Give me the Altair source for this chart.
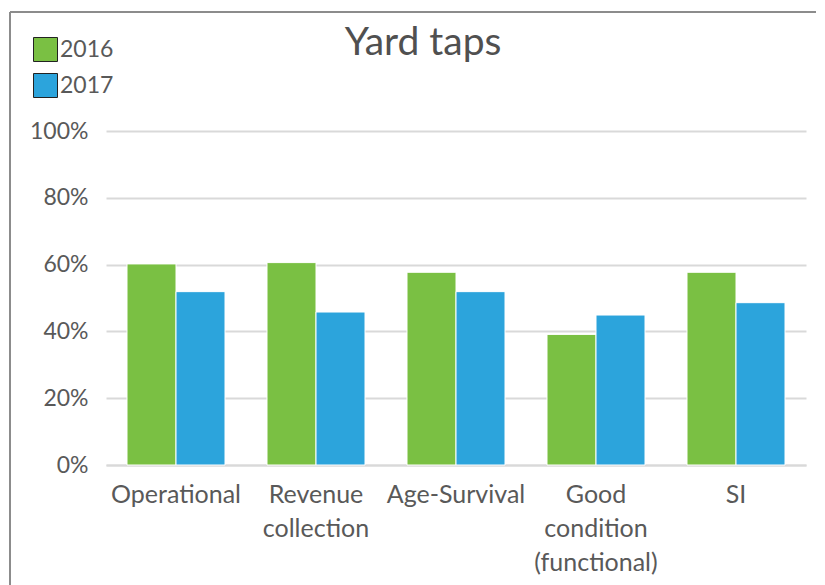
import altair as alt
import pandas as pd

categories = ["Operational", "Revenue collection", "Age-Survival", "Good condition (functional)", "SI"]
years = ["2016", "2017"]
values_2016 = [0.602, 0.606, 0.577, 0.391, 0.577]
values_2017 = [0.519, 0.458, 0.519, 0.449, 0.486]
colors = ["#7AC043", "#2CA4DC"]
title_text = "Yard taps"

rows = []
for c, a, b in zip(categories, values_2016, values_2017):
    rows.append({"category": c, "year": "2016", "value": a})
    rows.append({"category": c, "year": "2017", "value": b})
df = pd.DataFrame(rows)

font = "Lato"
gray = "#595959"

label_expr = ("datum.label == 'Revenue collection' ? ['Revenue', 'collection'] : "
              "datum.label == 'Good condition (functional)' ? ['Good', 'condition', '(functional)'] : datum.label")

bars = alt.Chart(df).mark_bar(stroke="white", strokeWidth=1).encode(
    x=alt.X("category:N", sort=categories, title=None,
            scale=alt.Scale(paddingInner=0.3, paddingOuter=0.15),
            axis=alt.Axis(labelAngle=0, labelExpr=label_expr, labelFont=font, labelFontSize=25,
                          labelColor=gray, labelLineHeight=34, labelPadding=17, ticks=False,
                          domainColor="#d9d9d9", domainWidth=2, grid=False, labelBaseline="top")),
    xOffset=alt.XOffset("year:N", sort=years, scale=alt.Scale(paddingInner=0.0)),
    y=alt.Y("value:Q", title=None, scale=alt.Scale(domain=[0, 1]),
            axis=alt.Axis(format=".0%", values=[0, 0.2, 0.4, 0.6, 0.8, 1.0], labelFont=font,
                          labelFontSize=23, labelColor=gray, labelPadding=18, ticks=False,
                          domain=False, gridColor="#d9d9d9", gridWidth=2)),
    color=alt.Color("year:N", sort=years, title=None,
                    scale=alt.Scale(domain=years, range=colors),
                    legend=alt.Legend(orient="none", legendX=-73, legendY=-94, symbolType="square",
                                      symbolSize=576, symbolStrokeColor="#222222", symbolStrokeWidth=1,
                                      labelFont=font, labelFontSize=23, labelColor=gray,
                                      labelOffset=2, rowPadding=7, symbolOpacity=1)),
)

one = pd.DataFrame({"t": [title_text]})
title = alt.Chart(one).mark_text(font=font, fontSize=39, color="#505050", align="center",
                                 baseline="alphabetic").encode(
    text="t:N", x=alt.value(317), y=alt.value(-76))

left_line = alt.Chart(one).mark_rule(color="#8c8c8c", strokeWidth=2).encode(
    x=alt.value(-96), y=alt.value(-119), y2=alt.value(460))
top_line = alt.Chart(one).mark_rule(color="#8c8c8c", strokeWidth=2).encode(
    x=alt.value(-96), x2=alt.value(720), y=alt.value(-119))

chart = alt.layer(bars, title, left_line, top_line).properties(
    width=700, height=334,
    autosize=alt.AutoSizeParams(type="none"),
    padding={"left": 98, "top": 123, "right": 10, "bottom": 120},
).configure(background="white").configure_view(stroke=None)

chart.save("out.html", embed_options={"renderer": "svg", "actions": False})
